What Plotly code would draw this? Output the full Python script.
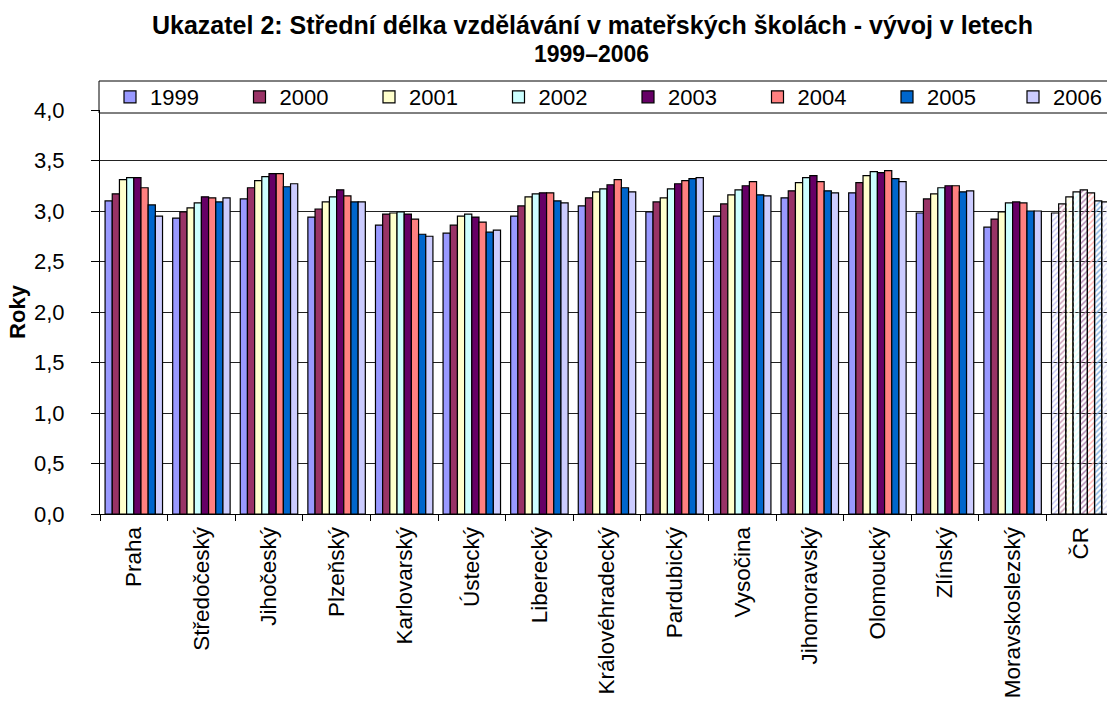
import plotly.graph_objects as go

regions = ["Praha", "Středočeský", "Jihočeský", "Plzeňský", "Karlovarský", "Ústecký",
           "Liberecký", "Královéhradecký", "Pardubický", "Vysočina", "Jihomoravský",
           "Olomoucký", "Zlínský", "Moravskoslezský", "ČR"]
years = ["1999", "2000", "2001", "2002", "2003", "2004", "2005", "2006"]

v1999 = [3.10, 2.93, 3.12, 2.94, 2.86, 2.78, 2.95, 3.05, 2.99, 2.95, 3.13, 3.18, 2.98, 2.84, 2.98]
v2000 = [3.17, 2.99, 3.23, 3.02, 2.97, 2.86, 3.05, 3.13, 3.09, 3.07, 3.20, 3.28, 3.12, 2.92, 3.07]
v2001 = [3.31, 3.03, 3.30, 3.09, 2.98, 2.95, 3.14, 3.19, 3.13, 3.16, 3.28, 3.35, 3.17, 2.99, 3.14]
v2002 = [3.33, 3.08, 3.34, 3.14, 2.99, 2.97, 3.17, 3.22, 3.22, 3.21, 3.33, 3.39, 3.23, 3.08, 3.19]
v2003 = [3.33, 3.14, 3.37, 3.21, 2.97, 2.94, 3.18, 3.26, 3.27, 3.25, 3.35, 3.38, 3.25, 3.09, 3.21]
v2004 = [3.23, 3.13, 3.37, 3.15, 2.92, 2.89, 3.18, 3.31, 3.30, 3.29, 3.29, 3.40, 3.25, 3.08, 3.18]
v2005 = [3.06, 3.09, 3.24, 3.09, 2.77, 2.79, 3.10, 3.23, 3.32, 3.16, 3.20, 3.32, 3.19, 3.00, 3.10]
v2006 = [2.95, 3.13, 3.27, 3.09, 2.75, 2.81, 3.08, 3.19, 3.33, 3.15, 3.18, 3.29, 3.20, 3.00, 3.09]
series = [v1999, v2000, v2001, v2002, v2003, v2004, v2005, v2006]

colors = ["#9999FF", "#993366", "#FFFFCC", "#CCFFFF", "#660066", "#FF8080", "#0066CC", "#CCCCFF"]
tints = ["#C4C4F4", "#C896B0", "#FFFFD9", "#D9FFFF", "#A878A8", "#FFB0B0", "#78AADC", "#DCDCF8"]

FONT = "Arial, Liberation Sans, sans-serif"
FS = 22

fig = go.Figure()
n = len(regions)
for i, (yr, vals, c, t) in enumerate(zip(years, series, colors, tints)):
    fill = [c] * (n - 1) + [t]
    shapes = [""] * (n - 1) + ["/"]
    fig.add_trace(go.Bar(
        name=yr, x=regions, y=vals,
        legend="legend" if i < 7 else "legend2",
        marker=dict(color=fill, line=dict(color="#000000", width=1.2),
                    pattern=dict(shape=shapes, fgcolor=c, size=4, solidity=0.35,
                                 fillmode="replace")),
    ))

L, R, T, B = 100, 0, 110, 191
W, H = 1107, 705
plot_w = W - L - R
plot_h = H - T - B
group_w = 67.6
entry_step = 129.5
leg_left = 110

def px_x(p):
    return (p - L) / plot_w

def px_y(p):
    return (H - B - p) / plot_h

legend_common = dict(orientation="h", xanchor="left", y=px_y(97), yanchor="middle",
                     bgcolor="rgba(0,0,0,0)", borderwidth=0, itemwidth=30,
                     entrywidthmode="pixels",
                     font=dict(family=FONT, size=FS, color="black"),
                     traceorder="normal")

fig.update_layout(
    width=W, height=H,
    margin=dict(l=L, r=R, t=T, b=B, pad=0, autoexpand=False),
    paper_bgcolor="white", plot_bgcolor="white",
    separators=", ",
    barmode="group", bargap=0.15, bargroupgap=0,
    font=dict(family=FONT, size=FS, color="black"),
    legend=dict(x=px_x(leg_left), entrywidth=entry_step - 45, **legend_common),
    legend2=dict(x=px_x(1013), entrywidth=48, **legend_common),
    showlegend=True,
    shapes=[dict(type="rect", xref="paper", yref="paper",
                 x0=px_x(99), x1=px_x(1112), y0=px_y(113), y1=px_y(81),
                 fillcolor="white", line=dict(color="black", width=1), layer="between")],
    annotations=[
        dict(text="<b>Ukazatel 2: Střední délka vzdělávání v mateřských školách - vývoj v letech</b>",
             xref="paper", yref="paper", x=px_x(592), y=px_y(25), xanchor="center", yanchor="middle",
             showarrow=False, font=dict(family=FONT, size=25, color="black")),
        dict(text="<b>1999–2006</b>",
             xref="paper", yref="paper", x=px_x(591), y=px_y(54), xanchor="center", yanchor="middle",
             showarrow=False, font=dict(family=FONT, size=23, color="black")),
    ],
)
fig.update_xaxes(
    automargin=False,
    range=[-0.5, -0.5 + plot_w / group_w],
    showline=True, linecolor="black", linewidth=1,
    ticks="outside", tickson="boundaries", ticklen=6, tickcolor="black",
    tickangle=-90, showgrid=False, ticklabelstandoff=3,
    tickfont=dict(family=FONT, size=22.5, color="black"),
)
fig.update_yaxes(
    automargin=False,
    range=[0, 4], dtick=0.5, tickformat=".1f",
    showline=True, linecolor="black", linewidth=1,
    ticks="outside", ticklen=8, tickcolor="black",
    ticklabelstandoff=22,
    showgrid=True, gridcolor="#222222", gridwidth=1,
    zeroline=False,
    tickfont=dict(family=FONT, size=FS, color="black"),
    title=dict(text="<b>Roky</b>", font=dict(family=FONT, size=FS, color="black"), standoff=2),
)

fig.write_html("out.html", config={"displayModeBar": False},
               post_script="document.body.style.margin='0';")
